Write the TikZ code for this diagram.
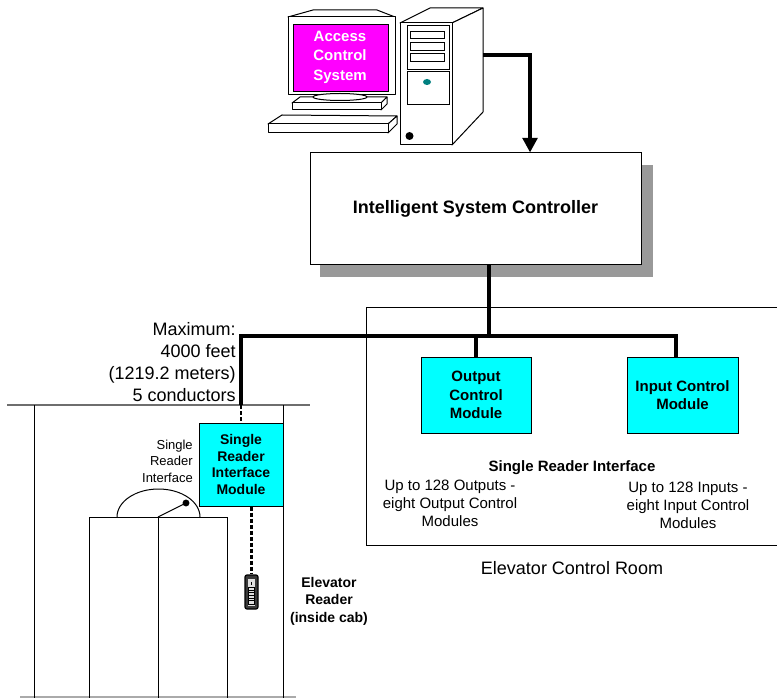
\documentclass[tikz,border=0pt]{standalone}
\usepackage{fontspec}
\setmainfont{Liberation Sans}
\usetikzlibrary{arrows.meta,calc}

\definecolor{screenmag}{RGB}{255,0,255}
\definecolor{modcyan}{RGB}{0,255,255}
\definecolor{shadowgray}{RGB}{153,153,153}
\definecolor{ledteal}{RGB}{0,128,128}
\definecolor{wallgray}{RGB}{110,110,110}
\definecolor{floorgray}{RGB}{170,170,170}

\begin{document}
\begin{tikzpicture}[x=0.75pt,y=-0.75pt,
  outline/.style={draw=black, line width=0.75pt},
  solidpart/.style={outline, fill=white, line join=round},
  module/.style={draw=black, fill=modcyan, line width=0.75pt, inner sep=0pt,
    align=center, font=\bfseries\fontsize{11.25pt}{13.9pt}\selectfont},
  bus/.style={line width=3pt},
  feed/.style={line width=3pt, -{Triangle[length=11pt,width=11pt]}},
  wire/.style={line width=1.8pt, dash pattern=on 3pt off 1.5pt},
  plain/.style={inner sep=0pt, align=center},
]
\useasboundingbox (0,0) rectangle (777,698);

% ---------- workstation: monitor ----------
\draw[solidpart] (288,17) -- (313,10) -- (377,10) -- (395,17) -- cycle;
\draw[solidpart] (288,17) rectangle (395,95);
\draw[outline, fill=screenmag] (293,25) rectangle (388,92);
\node[plain, text=white, font=\bfseries\fontsize{11.25pt}{14.6pt}\selectfont]
  (acs) at (340,57) {Access\\Control\\System};
% stand
\draw[solidpart] (292,103) -- (300,97) -- (387,97) -- (381,103) -- cycle;
\draw[solidpart] (381,103) -- (387,97) -- (387,104) -- (381,110) -- cycle;
\draw[solidpart] (292,103) rectangle (381,110);
\draw[solidpart] (340,97) ellipse [x radius=27, y radius=3.5];
% keyboard
\draw[solidpart] (268,124) -- (282,115) -- (397,116) -- (388,124) -- cycle;
\draw[solidpart] (388,124) -- (397,116) -- (397,124) -- (388,133) -- cycle;
\draw[solidpart] (268,124) rectangle (388,133);

% ---------- workstation: tower ----------
\draw[solidpart] (400,23) -- (430,8) -- (483,8) -- (452,23) -- cycle;
\draw[solidpart] (452,23) -- (483,8) -- (483,112) -- (452,145) -- cycle;
\draw[solidpart] (400,23) rectangle (452,145);
\draw[outline] (407,26) rectangle (449,70);
\draw[outline] (407,72) rectangle (449,105);
\draw[outline] (410,32) rectangle (444,39);
\draw[outline] (410,43) rectangle (444,51);
\draw[outline] (410,54) rectangle (444,62);
\fill[ledteal] (427,82) ellipse [x radius=4, y radius=3];
\fill[black] (409.5,136) circle [radius=3pt];
\coordinate (port) at (483,55);

% ---------- controller ----------
\fill[shadowgray] (320,165) rectangle (653,277);
\node[draw=black, fill=white, line width=0.75pt, inner sep=0pt,
      minimum width=248.25pt, minimum height=84pt,
      font=\bfseries\fontsize{13.5pt}{16pt}\selectfont]
  (isc) at (475.5,209) {Intelligent System Controller};
\draw[feed] (port) -| ([xshift=40.9pt]isc.north);

% ---------- elevator control room ----------
\draw[outline] (777,307) -- (366,307) -- (366,545) -- (777,545);
\node[module, minimum width=82.5pt, minimum height=57pt]
  (ocm) at (476,395) {Output\\Control\\Module};
\node[module, minimum width=83.25pt, minimum height=57pt]
  (icm) at (682.5,395) {Input Control\\Module};
\node[plain, font=\bfseries\fontsize{11.25pt}{13.5pt}\selectfont]
  (sri) at (572,468) {Single Reader Interface};
\node[plain, font=\fontsize{11.25pt}{13.5pt}\selectfont]
  (outs) at (450,503) {Up to 128 Outputs -\\eight Output Control\\Modules};
\node[plain, font=\fontsize{11.25pt}{13.5pt}\selectfont]
  (ins) at (688,505) {Up to 128 Inputs -\\eight Input Control\\Modules};
\node[plain, font=\fontsize{13.5pt}{16pt}\selectfont]
  (room) at (572,568) {Elevator Control Room};

% ---------- elevator shaft and cab ----------
\draw[wallgray, line width=1.5pt] (7,405) -- (310,405);
\draw[floorgray, line width=1.2pt] (20,697) -- (296,697);
\draw[outline] (34,405) -- (34,698);
\draw[outline] (283,405) -- (283,698);
\draw[outline] (89,698) -- (89,517) -- (227,517) -- (227,698);
\draw[outline] (158,517) -- (158,698);
\draw[outline] (117,517) arc [start angle=180, end angle=360, x radius=41.5, y radius=28];
\draw[outline] (158,517) -- (186,503);
\fill[black] (186,503) circle [radius=2.6pt];
\node[plain, align=right, anchor=east, font=\fontsize{9.75pt}{12.4pt}\selectfont]
  (srilbl) at (193,461) {Single\\Reader\\Interface};

\node[module, minimum width=63pt, minimum height=62.25pt,
      font=\bfseries\fontsize{10.5pt}{12.5pt}\selectfont]
  (srim) at (241,464.5) {Single\\Reader\\Interface\\Module};

% card reader inside the cab
\node[draw=black, fill=gray!45!black, line width=0.9pt, rounded corners=1.5pt,
      inner sep=0pt, minimum width=9.75pt, minimum height=25.5pt]
  (reader) at (251.5,592) {};
\fill[gray!25] (248,579) rectangle (255,606);
\fill[black] (251,582) rectangle (252,585);
\draw[black, line width=0.5pt] (248.8,587.5) rectangle (254.2,604);
\foreach \yy in {590,592.7,595.4,598.1,600.8}
  \draw[black, line width=0.6pt] (248.8,\yy) -- (254.2,\yy);
\node[plain, font=\bfseries\fontsize{10.5pt}{13.1pt}\selectfont]
  (readerlbl) at (329,601) {Elevator\\Reader\\(inside cab)};

% ---------- wiring ----------
\coordinate (tap) at (489,336);
\coordinate (busL) at (241,336);
\coordinate (busR) at (676,336);
\coordinate (shaft) at (241,405);
\draw[bus] ([xshift=10.125pt]isc.south) -- (tap);
\draw[bus] (shaft) -- (busL) -- (busR) -- (busR |- icm.north);
\draw[bus] (tap -| ocm.north) -- (ocm.north);
\draw[wire] (shaft) -- (srim.north);
\draw[wire] (srim.south -| reader.north) -- (reader.north);

\node[plain, align=right, anchor=east, font=\fontsize{13.5pt}{16.5pt}\selectfont]
  (maxlbl) at (236,362) {Maximum:\\4000 feet\\(1219.2 meters)\\5 conductors};
\end{tikzpicture}
\end{document}
